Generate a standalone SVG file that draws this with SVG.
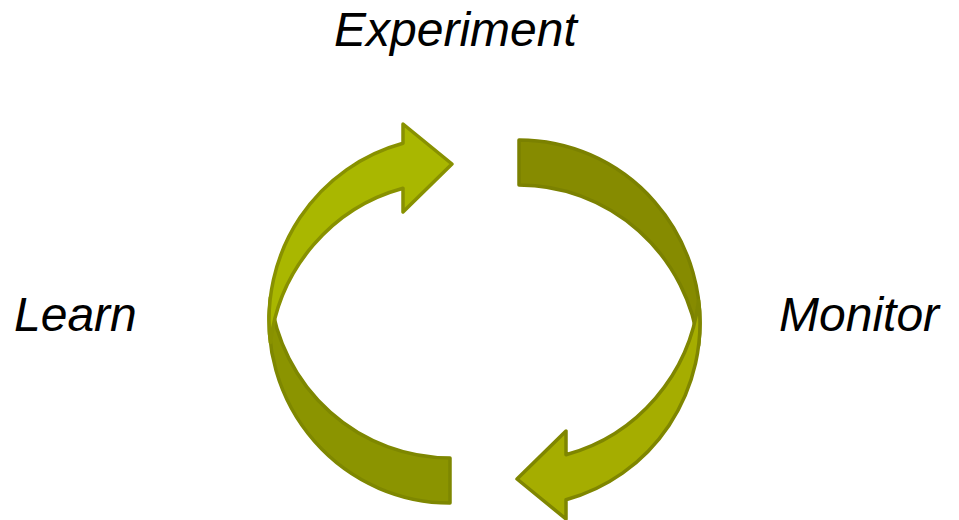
<svg xmlns="http://www.w3.org/2000/svg" width="959" height="520" viewBox="0 0 959 520">
  <style>
    .lbl { font-family: "Liberation Sans", Arial, sans-serif; font-style: italic; font-size: 48px; fill: #000; }
    .arrow path { stroke-width: 3.5; stroke-linejoin: round; }
    #learn-arrow .back { fill: #8B9400; stroke: #7E8700; }
    #learn-arrow .front { fill: #A9B700; stroke: #889100; }
    #monitor-arrow .back { fill: #868B00; stroke: #7B8100; }
    #monitor-arrow .front { fill: #A5AD00; stroke: #7F8600; }
  </style>
  <g id="connectors">
    <g id="learn-arrow" class="arrow">
      <path class="back" d="M 270.37,297.5 A 181 183 0 0 0 450,503 L 450,458 A 181 183 0 0 1 270.37,297.5 Z"/>
      <path class="front" d="M 270.37,342.5 A 181 183 0 0 1 403,143.3 L 403,124 L 452,164 L 403,212 L 403,188.3 A 181 183 0 0 0 270.37,342.5 Z"/>
    </g>
    <g id="monitor-arrow" class="arrow" transform="rotate(180 484.5 321.5)">
      <path class="back" d="M 270.37,297.5 A 181 183 0 0 0 450,503 L 450,458 A 181 183 0 0 1 270.37,297.5 Z"/>
      <path class="front" d="M 270.37,342.5 A 181 183 0 0 1 403,143.3 L 403,124 L 452,164 L 403,212 L 403,188.3 A 181 183 0 0 0 270.37,342.5 Z"/>
    </g>
  </g>
  <g id="experiment"><text class="lbl" x="334" y="46">Experiment</text></g>
  <g id="learn"><text class="lbl" x="14" y="331">Learn</text></g>
  <g id="monitor"><text class="lbl" x="779" y="331">Monitor</text></g>
</svg>
